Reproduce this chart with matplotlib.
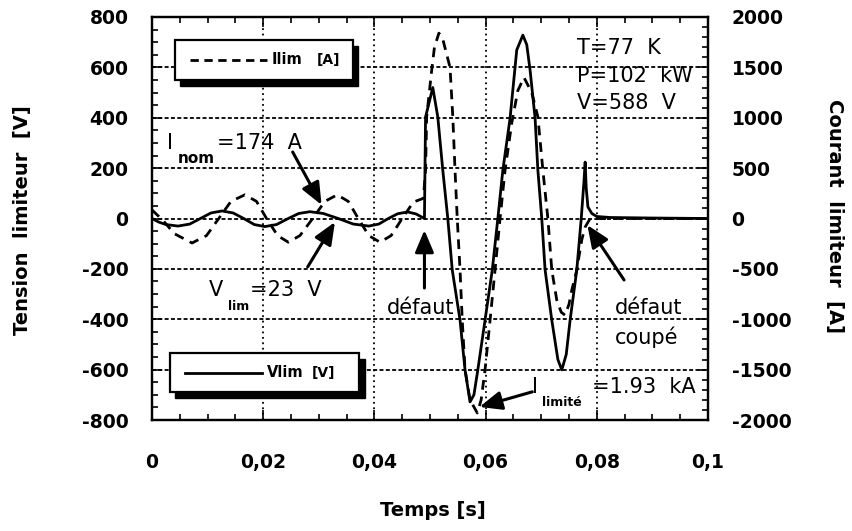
import matplotlib
matplotlib.use('Agg')
import matplotlib.pyplot as plt
from matplotlib.ticker import MultipleLocator, FixedLocator, FixedFormatter
from matplotlib.patches import Rectangle
from matplotlib.lines import Line2D

# ---------------- data ----------------
t_v = [0.0000, 0.0012, 0.0025, 0.0047, 0.0068, 0.0087, 0.0106, 0.0126, 0.0146, 0.0165,
       0.0184, 0.0203, 0.0224, 0.0245, 0.0264, 0.0284, 0.0308, 0.0335, 0.0362, 0.0390,
       0.0408, 0.0425, 0.0442, 0.0460, 0.0475, 0.0490,
       0.0492, 0.0505, 0.0514, 0.0523, 0.0532, 0.0540, 0.0554, 0.0563, 0.0572, 0.0579,
       0.0586, 0.0599, 0.0612, 0.0622, 0.0631, 0.0644, 0.0656, 0.0667, 0.0674, 0.0680,
       0.0689, 0.0694, 0.0701, 0.0707, 0.0719, 0.0730, 0.0737, 0.0745, 0.0752, 0.0764,
       0.0772, 0.0777, 0.0779, 0.0781, 0.0784, 0.0791, 0.0800, 0.0824, 0.0896, 0.1000]
v_lim = [0, -14, -24, -30, -22, 0, 22, 30, 22, 0,
         -24, -32, -24, 0, 20, 27, 20, 0, -22, -30,
         -22, 0, 19, 26, 18, 0,
         403, 520, 403, 192, 0, -204, -403, -601, -728, -700,
         -601, -403, -204, 0, 192, 398, 669, 728, 690, 589,
         398, 192, 0, -204, -403, -560, -601, -540, -403, -204,
         0, 150, 224, 120, 46, 20, 8, 4, 2, 0]

t_i = [0.0000, 0.0020, 0.0040, 0.0072, 0.0098, 0.0120, 0.0142, 0.0167, 0.0188, 0.0206,
       0.0226, 0.0245, 0.0266, 0.0289, 0.0311, 0.0333, 0.0353, 0.0371, 0.0390, 0.0410,
       0.0430, 0.0450, 0.0470, 0.0488,
       0.0492, 0.0494, 0.0503, 0.0508, 0.0516, 0.0523, 0.0536, 0.0541, 0.0545, 0.0549,
       0.0554, 0.0558, 0.0563, 0.0572, 0.0585, 0.0592, 0.0599, 0.0608, 0.0617, 0.0626,
       0.0635, 0.0647, 0.0658, 0.0669, 0.0683, 0.0694, 0.0703, 0.0712, 0.0719, 0.0728,
       0.0736, 0.0743, 0.0750, 0.0755, 0.0764, 0.0773, 0.0779, 0.0788, 0.1000]
i_lim = [85, -20, -150, -243, -170, 0, 170, 235, 170, 0,
         -170, -235, -170, 0, 170, 235, 170, 0, -170, -235,
         -170, 0, 163, 200,
         480, 1010, 1470, 1700, 1840, 1780, 1500, 1010, 480, 0,
         -510, -1010, -1500, -1800, -1930, -1800, -1500, -1010, -510, 0,
         480, 947, 1270, 1400, 1250, 1010, 480, 0, -510, -810,
         -930, -960, -850, -710, -510, -210, -85, 0, 0]

x_ticks = [0, 0.02, 0.04, 0.06, 0.08, 0.1]
x_tick_labels = ['0', '0,02', '0,04', '0,06', '0,08', '0,1']
v_ticks = [-800, -600, -400, -200, 0, 200, 400, 600, 800]
i_ticks = [-2000, -1500, -1000, -500, 0, 500, 1000, 1500, 2000]

# ---------------- figure ----------------
plt.rcParams['font.family'] = 'DejaVu Sans'
fig = plt.figure(figsize=(8.52, 5.31), dpi=100)
ax = fig.add_axes([0.1784, 0.209, 0.6526, 0.759])
ax2 = ax.twinx()

ax.set_xlim(0, 0.1)
ax.set_ylim(-800, 800)
ax2.set_ylim(-2000, 2000)

# grid
ax.set_axisbelow(True)
ax.xaxis.grid(True, which='major', color='k', linestyle=(0, (1, 2)), linewidth=1.3)
ax.yaxis.grid(True, which='major', color='k', linestyle=(0, (2.2, 1.3)), linewidth=1.3)

# curves
ax.plot(t_v, v_lim, color='k', lw=2.0, solid_joinstyle='round', zorder=3)
ax2.plot(t_i, i_lim, color='k', lw=2.0, dashes=(3.5, 2.5), zorder=3)

# ticks
ax.xaxis.set_major_locator(FixedLocator(x_ticks))
ax.xaxis.set_major_formatter(FixedFormatter(x_tick_labels))
ax.xaxis.set_minor_locator(MultipleLocator(0.005))
ax.yaxis.set_major_locator(FixedLocator(v_ticks))
ax.yaxis.set_minor_locator(MultipleLocator(50))
ax2.yaxis.set_major_locator(FixedLocator(i_ticks))
ax2.yaxis.set_minor_locator(MultipleLocator(100))
ax.set_yticklabels([str(v) for v in v_ticks])
ax2.set_yticklabels([str(v) for v in i_ticks])

ax.tick_params(axis='x', which='both', direction='in', top=True, bottom=True,
               width=1.2, pad=24, labelsize=13.5)
ax.tick_params(axis='x', which='major', length=7)
ax.tick_params(axis='x', which='minor', length=4)
ax.tick_params(axis='y', which='both', direction='in', left=True, right=False,
               width=1.2, pad=17, labelsize=13.5)
ax.tick_params(axis='y', which='major', length=7)
ax.tick_params(axis='y', which='minor', length=4)
ax2.tick_params(axis='y', which='both', direction='in', width=1.2, pad=17, labelsize=13.5)
ax2.tick_params(axis='y', which='major', length=7)
ax2.tick_params(axis='y', which='minor', length=4)
for lab in ax.get_xticklabels() + ax.get_yticklabels() + ax2.get_yticklabels():
    lab.set_fontweight('bold')

for a in (ax, ax2):
    for s in a.spines.values():
        s.set_linewidth(1.6)

# axis labels
ax.set_xlabel('Temps [s]', fontsize=14, fontweight='bold')
ax.xaxis.set_label_coords(0.505, -0.2)
ax.set_ylabel('Tension  limiteur  [V]', fontsize=14, fontweight='bold')
ax.yaxis.set_label_coords(-0.215, 0.496)
ax2.set_ylabel('Courant  limiteur  [A]', fontsize=14, fontweight='bold', rotation=-90)
ax2.yaxis.set_label_coords(1.245, 0.505)

# ---------------- legend boxes ----------------
def legend_box(x0, y0, x1, y1, solid, name, unit):
    sh = Rectangle((x0 + 0.010, y0 - 0.014), x1 - x0, y1 - y0, transform=ax2.transAxes,
                   facecolor='k', edgecolor='k', zorder=5, clip_on=False)
    bx = Rectangle((x0, y0), x1 - x0, y1 - y0, transform=ax2.transAxes,
                   facecolor='white', edgecolor='k', lw=1.6, zorder=6, clip_on=False)
    ax2.add_patch(sh)
    ax2.add_patch(bx)
    ym = (y0 + y1) / 2
    if solid:
        ln = Line2D([x0 + 0.027, x0 + 0.165], [ym, ym], transform=ax2.transAxes,
                    color='k', lw=2.0, zorder=7)
    else:
        ln = Line2D([x0 + 0.027, x0 + 0.165], [ym, ym], transform=ax2.transAxes,
                    color='k', lw=2.0, dashes=(3.0, 2.0), zorder=7)
    ax2.add_line(ln)
    ax2.text(x0 + 0.175, ym, name, transform=ax2.transAxes, fontsize=10.5,
             fontweight='bold', va='center', ha='left', zorder=7)
    ax2.text(x0 + 0.255, ym, unit, transform=ax2.transAxes, fontsize=10,
             fontweight='bold', va='center', ha='left', zorder=7)

legend_box(0.041, 0.844, 0.361, 0.943, False, 'Ilim', '[A]')
legend_box(0.032, 0.069, 0.373, 0.166, True, 'Vlim', '[V]')

# ---------------- annotations ----------------
TD = ax.transData

def txt(x, y, s, size=15, ha='left', weight='normal'):
    ax2.text(x, y, s, transform=TD, fontsize=size, ha=ha, va='center',
             fontweight=weight, zorder=8)

def arrow(tail, head):
    ax2.annotate('', xy=head, xytext=tail, xycoords=TD, textcoords=TD,
                 arrowprops=dict(arrowstyle='-|>,head_length=0.9,head_width=0.38',
                                 lw=2.2, color='k', shrinkA=0, shrinkB=0,
                                 mutation_scale=15), zorder=8)

# parameters
txt(0.0765, 677, 'T=77  K')
txt(0.0765, 565, 'P=102  kW')
txt(0.0765, 458, 'V=588  V')

# I nom
txt(0.0032, 300, 'I', ha='center')
txt(0.0047, 238, 'nom', size=11, weight='bold')
txt(0.0117, 300, '=174  A')
arrow((0.0253, 264), (0.0305, 54))

# V lim
txt(0.0115, -284, 'V', ha='center')
txt(0.0137, -351, 'lim', size=9, weight='bold')
txt(0.0176, -284, '=23  V')
arrow((0.0280, -192), (0.0329, -14))

# défaut
txt(0.0484, -355, 'défaut', ha='center')
arrow((0.0490, -276), (0.0490, -46))

# défaut coupé
txt(0.0894, -355, 'défaut', ha='center')
txt(0.0889, -471, 'coupé', ha='center')
arrow((0.0849, -244), (0.0783, -26))

# I limité
txt(0.0688, -669, 'I', ha='center')
txt(0.0702, -732, 'limité', size=9, weight='bold')
txt(0.0792, -669, '=1.93  kA')
arrow((0.0684, -688), (0.0589, -748))

fig.savefig('out.png', dpi=100)
